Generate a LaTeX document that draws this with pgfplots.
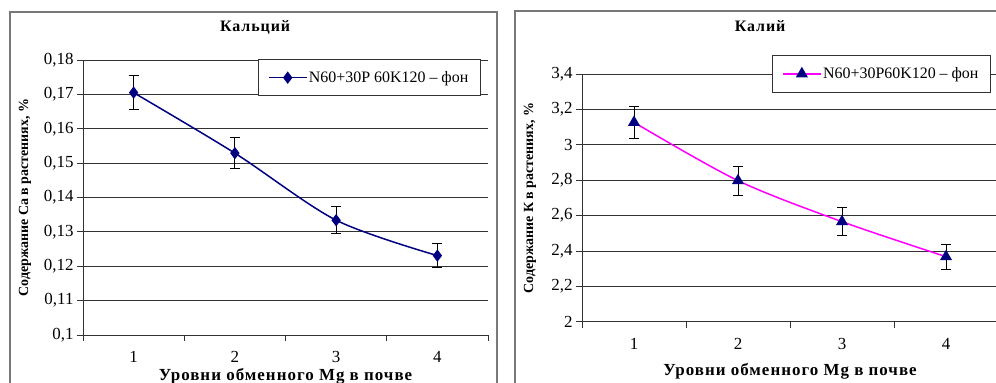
\documentclass[border=0pt]{standalone}
\usepackage{fontspec}
\setmainfont{Liberation Serif}
\usepackage{pgfplots}
\pgfplotsset{compat=1.18}
\definecolor{navy}{RGB}{0,0,128}
\definecolor{mag}{RGB}{255,0,255}
\definecolor{framegray}{RGB}{120,120,120}
\newfontfamily\spacedbold[LetterSpace=6]{Liberation Serif}
\pgfplotsset{
  excel/.style={
    scale only axis,
    anchor=south west,
    xmin=0.5, xmax=4.5,
    xtick={1,2,3,4},
    minor xtick={0.5,1.5,2.5,3.5,4.5},
    major x tick style={draw=none},
    axis x line*=bottom, axis y line*=left,
    axis line style={black!80, line width=1bp, -},
    ymajorgrids, grid style={black!80, line width=1bp},
    tick align=outside,
    major tick length=6bp, minor tick length=6bp,
    tick style={black!80, line width=1bp},
    /pgf/number format/assume math mode=true,
    yticklabel style={/pgf/number format/.cd, use comma, fixed, precision=2},
    tick label style={font=\fontsize{17}{19}\selectfont},
    xticklabel style={yshift=-7bp},
    ylabel style={font=\bfseries\fontsize{14}{16}\selectfont},
    xlabel style={font=\spacedbold\bfseries\fontsize{17}{19}\selectfont},
    title style={font=\spacedbold\bfseries\fontsize{16}{18}\selectfont, anchor=center},
    legend style={draw=black!80, line width=1bp, font=\fontsize{16}{18}\selectfont,
      anchor=north west, inner xsep=10bp, inner ysep=10bp, legend cell align=left},
    legend image code/.code={\draw[mark repeat=2, mark phase=2] plot coordinates {(0bp,0bp) (18.5bp,0bp) (37bp,0bp)};},
  }
}
\begin{document}
\begin{tikzpicture}[x=1bp,y=1bp]
\useasboundingbox (0,0) rectangle (996,382);
\begin{scope}
\clip (0,0) rectangle (996,382);
\draw[framegray, line width=1.2bp] (10,-10) -- (10,370) -- (497,370) -- (497,-10);
\draw[framegray, line width=1.2bp] (515,-10) -- (515,371) -- (1010,371);

\begin{axis}[excel,
  at={(83bp,47bp)}, width=405bp, height=275bp,
  ymin=0.1, ymax=0.18, ytick={0.1,0.11,0.12,0.13,0.14,0.15,0.16,0.17,0.18},
  title={Кальций},
  title style={at={(axis description cs:0.425,1)}, yshift=27bp},
  xlabel={Уровни обменного Mg в почве},
  xlabel style={at={(axis description cs:0.5,0)}, anchor=center, yshift=-41bp},
  ylabel={Содержание Са в растениях, \%},
  ylabel style={at={(axis description cs:-0.143,0.5)}, anchor=center},
  legend style={at={(axis description cs:0.432,1.004)}},
]
\addplot[navy, line width=1.5bp, smooth, mark=diamond*, mark size=5bp,
  mark options={fill=navy, solid},
  error bars/.cd, y dir=both, y explicit,
  error bar style={black, line width=0.8bp},
  error mark options={rotate=90, mark size=5bp, black, line width=0.8bp}]
coordinates {
  (1,0.1705) +- (0,0.0050)
  (2,0.1529) +- (0,0.0045)
  (3,0.1334) +- (0,0.0039)
  (4,0.1231) +- (0,0.0035)
};
\addlegendentry{N60+30P 60K120 – фон}
\end{axis}

\begin{axis}[excel,
  at={(582bp,60.3bp)}, width=416bp, height=247.4bp,
  ymin=2, ymax=3.4, ytick={2,2.2,2.4,2.6,2.8,3,3.2,3.4},
  title={Калий},
  title style={at={(axis description cs:0.428,1)}, yshift=42bp},
  xlabel={Уровни обменного Mg в почве},
  xlabel style={at={(axis description cs:0.5,0)}, anchor=center, yshift=-50bp},
  ylabel={Содержание К в растениях, \%},
  ylabel style={at={(axis description cs:-0.125,0.5)}, anchor=center},
  legend style={at={(axis description cs:0.457,1.078)}},
]
\addplot[mag, line width=1.5bp, smooth, mark=triangle*, mark size=5.5bp,
  mark options={fill=navy, draw=navy, solid},
  error bars/.cd, y dir=both, y explicit,
  error bar style={black, line width=0.8bp},
  error mark options={rotate=90, mark size=5bp, black, line width=0.8bp}]
coordinates {
  (1,3.128) +- (0,0.090)
  (2,2.798) +- (0,0.083)
  (3,2.566) +- (0,0.078)
  (4,2.368) +- (0,0.070)
};
\addlegendentry{N60+30P60K120 – фон}
\end{axis}
\end{scope}
\end{tikzpicture}
\end{document}
